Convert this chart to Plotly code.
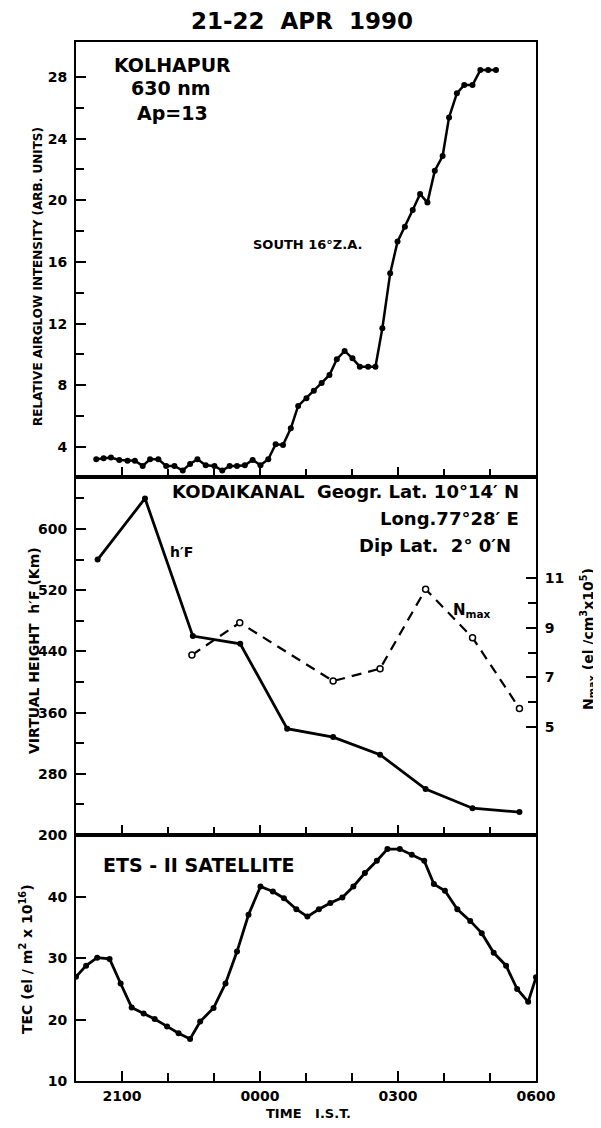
import plotly.graph_objects as go

# ---------------- data (hours after 20:00 IST) ----------------
airglow_time = [0.44, 0.60, 0.76, 0.94, 1.12, 1.28, 1.45, 1.61, 1.79, 1.96, 2.14, 2.32, 2.48, 2.64,
                2.82, 3.01, 3.18, 3.34, 3.50, 3.67, 3.84, 4.01, 4.18, 4.34, 4.50, 4.67, 4.83, 5.01,
                5.17, 5.34, 5.51, 5.67, 5.84, 6.01, 6.17, 6.35, 6.51, 6.66, 6.83, 6.99, 7.15, 7.32,
                7.48, 7.64, 7.80, 7.97, 8.11, 8.28, 8.44, 8.62, 8.79, 8.96, 9.13]
airglow_val = [3.20, 3.27, 3.31, 3.16, 3.11, 3.11, 2.77, 3.20, 3.20, 2.77, 2.77, 2.47, 2.90, 3.20,
               2.81, 2.77, 2.47, 2.77, 2.77, 2.81, 3.16, 2.81, 3.20, 4.17, 4.13, 5.21, 6.66, 7.16,
               7.65, 8.15, 8.67, 9.69, 10.23, 9.75, 9.21, 9.21, 9.21, 11.70, 15.26, 17.32, 18.29, 19.37,
               20.41, 19.85, 21.92, 22.87, 25.38, 26.94, 27.48, 27.48, 28.45, 28.45, 28.45]

hf_time = [0.47, 1.50, 2.54, 3.57, 4.59, 5.59, 6.61, 7.60, 8.62, 9.64]
hf_val = [560, 640, 460, 450, 339, 328, 305, 260, 235, 230]

nmax_time = [2.52, 3.56, 5.59, 6.61, 7.60, 8.62, 9.64]
nmax_val = [7.9, 9.2, 6.85, 7.35, 10.55, 8.6, 5.75]

tec_time = [0.00, 0.22, 0.46, 0.73, 0.97, 1.21, 1.47, 1.71, 1.98, 2.23, 2.48, 2.70, 2.99, 3.25,
            3.50, 3.75, 4.01, 4.28, 4.52, 4.79, 5.03, 5.28, 5.53, 5.79, 6.03, 6.28, 6.54, 6.77,
            7.04, 7.30, 7.57, 7.78, 8.02, 8.29, 8.57, 8.82, 9.08, 9.35, 9.59, 9.83, 10.0]
tec_val = [27.0, 28.8, 30.1, 29.9, 25.9, 22.0, 21.0, 20.1, 18.9, 17.8, 16.85, 19.7, 21.9, 25.9,
           31.1, 37.1, 41.7, 40.9, 39.8, 38.0, 36.8, 38.0, 39.0, 39.9, 41.7, 43.9, 45.9, 47.8,
           47.8, 46.9, 45.9, 42.1, 41.0, 38.0, 36.1, 34.1, 30.9, 28.8, 25.0, 22.9, 26.9]

time_ticks = [1, 4, 7, 10]
time_labels = ["2100", "0000", "0300", "0600"]
time_minor = [2, 3, 5, 6, 8, 9]

airglow_ticks = [4, 8, 12, 16, 20, 24, 28]
airglow_minor = [6, 10, 14, 18, 22, 26]
hf_ticks = [200, 280, 360, 440, 520, 600]
hf_minor = [240, 320, 400, 480, 560, 640]
nmax_ticks = [5, 7, 9, 11]
nmax_minor = [6, 8, 10]
tec_ticks = [10, 20, 30, 40]

# ---------------- layout geometry ----------------
# page body has an 8px margin, so the figure is drawn 8px smaller and all
# reference pixel positions are shifted by OFF.
OFF = 8
W, H = 601 - OFF, 1128 - 2 * OFF
L, R, T, B = 76 - OFF, 536 - OFF, 42 - OFF, 1081 - OFF
PW, PH = R - L, B - T


def px(x):
    return (x - OFF - L) / PW


def py(y):
    return (B - (y - OFF)) / PH


top_dom = [py(477), 1.0]
mid_dom = [py(835), py(477)]
bot_dom = [0.0, py(835)]

FONT = "DejaVu Sans"
tickfont = dict(family=FONT, size=14, color="black", weight="bold")


def minor(vals):
    return dict(tickmode="array", tickvals=vals, ticks="inside", ticklen=8, tickwidth=2,
                tickcolor="black", showgrid=False)


fig = go.Figure()

fig.add_trace(go.Scatter(x=airglow_time, y=airglow_val, xaxis="x3", yaxis="y3", mode="lines+markers",
                         line=dict(color="black", width=2.5), marker=dict(color="black", size=6),
                         showlegend=False))
fig.add_trace(go.Scatter(x=hf_time, y=hf_val, xaxis="x2", yaxis="y2", mode="lines+markers",
                         line=dict(color="black", width=2.8), marker=dict(color="black", size=6),
                         showlegend=False))
fig.add_trace(go.Scatter(x=nmax_time, y=nmax_val, xaxis="x2", yaxis="y4", mode="lines+markers",
                         line=dict(color="black", width=2.2, dash="10px,7px"),
                         marker=dict(color="white", size=6, line=dict(color="black", width=1.5)),
                         showlegend=False))
fig.add_trace(go.Scatter(x=tec_time, y=tec_val, xaxis="x", yaxis="y", mode="lines+markers",
                         line=dict(color="black", width=2.8), marker=dict(color="black", size=6),
                         showlegend=False))

xcommon = dict(range=[0, 10], tickmode="array", tickvals=time_ticks, ticktext=time_labels,
               ticks="inside", ticklen=10, tickwidth=2, tickcolor="black", minor=minor(time_minor),
               showline=True, linecolor="black", linewidth=2, mirror=True, showgrid=False,
               zeroline=False, domain=[0, 1], tickfont=tickfont, ticklabelstandoff=1)
ycommon = dict(tickmode="array", ticks="inside", ticklen=10, tickwidth=2, tickcolor="black",
               showline=True, linecolor="black", linewidth=2, mirror=True, showgrid=False,
               zeroline=False, tickfont=tickfont, ticklabelstandoff=4)

fig.update_layout(
    width=W, height=H,
    margin=dict(l=L, r=W - R, t=T, b=H - B, pad=0, autoexpand=False),
    paper_bgcolor="white", plot_bgcolor="white",
    xaxis=dict(xcommon, anchor="y", showticklabels=True),
    xaxis2=dict(xcommon, anchor="y2", showticklabels=False),
    xaxis3=dict(xcommon, anchor="y3", showticklabels=False),
    yaxis=dict(ycommon, domain=bot_dom, anchor="x", range=[10, 50.1], tickvals=tec_ticks),
    yaxis2=dict(ycommon, domain=mid_dom, anchor="x2", range=[200, 668], tickvals=hf_ticks,
                minor=minor(hf_minor)),
    yaxis3=dict(ycommon, domain=top_dom, anchor="x3", range=[2.05, 30.27], tickvals=airglow_ticks,
                minor=minor(airglow_minor)),
    yaxis4=dict(ycommon, overlaying="y2", side="right", anchor="x2", range=[0.65, 15.07],
                tickvals=nmax_ticks, minor=minor(nmax_minor), mirror=False),
)


def ann(text, x, y, size, xanchor="center", angle=0):
    fig.add_annotation(text=text, x=px(x), y=py(y), xref="paper", yref="paper", showarrow=False,
                       xanchor=xanchor, yanchor="middle", textangle=angle, borderpad=0,
                       font=dict(family=FONT, size=size, color="black", weight="bold"))


ann("21-22  APR  1990", 302, 21, 23)
ann("KOLHAPUR", 172, 65, 19)
ann("630 nm", 171, 88, 19)
ann("Ap=13", 172, 113, 19)
ann("SOUTH 16°Z.A.", 307, 245, 13)
ann("KODAIKANAL  Geogr. Lat. 10°14′ N", 520, 492, 18, xanchor="right")
ann("Long.77°28′ E", 520, 518, 18, xanchor="right")
ann("Dip Lat.  2° 0′N", 512, 545, 18, xanchor="right")
ann("h′F", 181, 552, 14)
ann("N<sub>max</sub>", 472, 610, 15)
ann("ETS - II SATELLITE", 102, 865, 19, xanchor="left")
ann("RELATIVE AIRGLOW INTENSITY (ARB. UNITS)", 38, 277, 12, angle=-90)
ann("VIRTUAL HEIGHT  h′F (Km)", 34, 651, 14, angle=-90)
ann("TEC (el / m<sup>2</sup> x 10<sup>16</sup>)", 26, 959, 14, angle=-90)
ann("N<sub>max</sub> (el /cm<sup>3</sup>x10<sup>5</sup>)", 588, 639, 14, angle=-90)
ann("TIME   I.S.T.", 308, 1113, 13)

fig.write_html("out.html")
